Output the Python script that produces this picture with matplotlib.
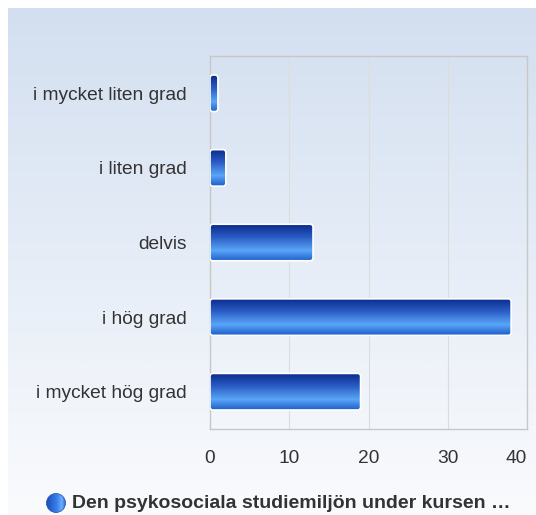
import numpy as np
import matplotlib.pyplot as plt
from matplotlib.colors import LinearSegmentedColormap
from matplotlib.patches import FancyBboxPatch, Circle

# data
categories = ["i mycket liten grad", "i liten grad", "delvis", "i hög grad", "i mycket hög grad"]
values = [1, 2, 13, 38, 19]
x_ticks = [0, 10, 20, 30, 40]
legend_label = "Den psykosociala studiemiljön under kursen …"

W, H = 536, 515
plt.rcParams['font.family'] = ['Liberation Sans', 'DejaVu Sans']

fig = plt.figure(figsize=(W / 100, H / 100), dpi=100)
fig.patch.set_facecolor("white")

# page background gradient
bg = fig.add_axes([8 / W, 0, 1 - 8 / W, 1 - 8 / H])
bg_cmap = LinearSegmentedColormap.from_list("bg", ["#d3dff0", "#e6edf7", "#fafbfd"])
bg.imshow(np.linspace(0, 1, 256).reshape(-1, 1), aspect="auto", cmap=bg_cmap,
          extent=[0, 1, 0, 1], origin="upper")
bg.set_axis_off()

ax = fig.add_axes([210 / W, 1 - 429 / H, (527 - 210) / W, (429 - 56) / H])
ax.patch.set_alpha(0)

y = np.arange(len(categories))
bars = ax.barh(y, values, height=0.49, color="none", edgecolor="none")

bar_cmap = LinearSegmentedColormap.from_list(
    "bar", [(0, "#0a2a8c"), (0.35, "#2a5cc4"), (0.72, "#5aa6f8"), (1, "#1f5fcc")])
grad = np.linspace(0, 1, 64).reshape(-1, 1)
for rect in bars:
    x0, y0 = rect.get_x(), rect.get_y()
    w, h = rect.get_width(), rect.get_height()
    shape = FancyBboxPatch((x0, y0), w, h, boxstyle="round,pad=0,rounding_size=0.35",
                           mutation_aspect=0.11, facecolor="none", edgecolor="white",
                           linewidth=1.2, zorder=4)
    ax.add_patch(shape)
    im = ax.imshow(grad, aspect="auto", cmap=bar_cmap, extent=[x0, x0 + w, y0 + h, y0],
                   origin="upper", zorder=3)
    im.set_clip_path(shape)

ax.set_xlim(0, 40)
ax.set_ylim(len(categories) - 0.5, -0.5)
ax.set_xticks(x_ticks)
ax.set_yticks(y)
ax.set_yticklabels(categories)
ax.grid(axis="x", color="#dcdcdc", linewidth=0.8)
ax.set_axisbelow(True)
ax.tick_params(axis="both", length=0, labelsize=13.8, colors="#333333")
ax.tick_params(axis="y", pad=17)
ax.tick_params(axis="x", pad=15)
# last x label is pulled inside the chart, like the original
ax.get_xticklabels()[-1].set_horizontalalignment("right")
for side in ax.spines.values():
    side.set_color("#c8c8c8")
    side.set_linewidth(1)

# legend marker: small sphere with horizontal gradient
lg = fig.add_axes([46 / W, 1 - 513 / H, 20 / W, 20 / H])
lg.set_xlim(-1, 1)
lg.set_ylim(-1, 1)
lg.set_axis_off()
dot = Circle((0, 0), 0.95, facecolor="none", edgecolor="#1a4aa8", linewidth=0.5)
lg.add_patch(dot)
dot_cmap = LinearSegmentedColormap.from_list(
    "dot", [(0, "#1a4ab8"), (0.55, "#3a80e8"), (0.8, "#6ab0ff"), (1, "#2a62cc")])
dim = lg.imshow(np.linspace(0, 1, 64).reshape(1, -1), aspect="auto", cmap=dot_cmap,
                extent=[-1, 1, -1, 1])
dim.set_clip_path(dot)

fig.text(72 / W, 1 - 503 / H, legend_label, fontsize=14, fontweight="bold",
         color="#333333", va="center", ha="left")

fig.savefig("out.png", dpi=100)
